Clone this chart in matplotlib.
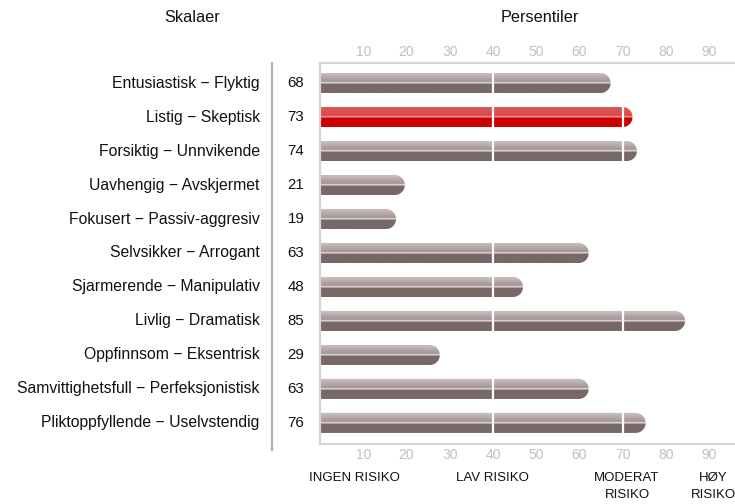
import numpy as np
import matplotlib
matplotlib.use("Agg")
import matplotlib.pyplot as plt
from matplotlib.path import Path
from matplotlib.patches import PathPatch
from matplotlib.lines import Line2D
from matplotlib.colors import to_rgb

plt.rcParams['font.family'] = ['Liberation Sans', 'DejaVu Sans']

categories = [
    "Entusiastisk \u2212 Flyktig",
    "Listig \u2212 Skeptisk",
    "Forsiktig \u2212 Unnvikende",
    "Uavhengig \u2212 Avskjermet",
    "Fokusert \u2212 Passiv-aggresiv",
    "Selvsikker \u2212 Arrogant",
    "Sjarmerende \u2212 Manipulativ",
    "Livlig \u2212 Dramatisk",
    "Oppfinnsom \u2212 Eksentrisk",
    "Samvittighetsfull \u2212 Perfeksjonistisk",
    "Pliktoppfyllende \u2212 Uselvstendig",
]
values = [68, 73, 74, 21, 19, 63, 48, 85, 29, 63, 76]
highlight = [False, True, False, False, False, False, False, False, False, False, False]
ticks = [10, 20, 30, 40, 50, 60, 70, 80, 90]
cut_lines = [40, 70]
risk_labels = ["INGEN RISIKO", "LAV RISIKO", "MODERAT\nRISIKO", "H\u00d8Y\nRISIKO"]
titles = ["Skalaer", "Persentiler"]

W, H = 735, 504
fig = plt.figure(figsize=(W / 100, H / 100), dpi=100)
ax_l, ax_r, ax_t, ax_b = 320, 735, 63, 444
rect = [ax_l / W, 1 - ax_b / H, (ax_r - ax_l) / W, (ax_b - ax_t) / H]
ax = fig.add_axes(rect)
# bar layer: same box, slightly different bar-length scale (bars start a bit left of the frame)
bx = fig.add_axes(rect, zorder=1)
ax.set_zorder(2)
ax.patch.set_visible(False)

n = len(values)
ylim = (n - 1 + 0.62, -0.59)
ax.set_xlim(0, 96)
ax.set_ylim(*ylim)
bx.set_xlim(1.64, 96.4)
bx.set_ylim(*ylim)
bx.axis("off")

bar_h = 0.59


def grad_image(highlighted):
    rows = 40
    img = np.zeros((rows, 1, 3))
    if highlighted:
        top_a, top_b = to_rgb("#de5a5a"), to_rgb("#d84848")
        line_c = to_rgb("#ec9090")
        bot = to_rgb("#cc0000")
        edge = to_rgb("#e57070")
    else:
        top_a, top_b = to_rgb("#cdc3c3"), to_rgb("#a39393")
        line_c = to_rgb("#ddd5d5")
        bot = to_rgb("#786868")
        edge = to_rgb("#b8acac")
    for r in range(rows):
        if r < 19:
            t = r / 18
            img[r, 0] = np.array(top_a) * (1 - t) + np.array(top_b) * t
        elif r < 22:
            img[r, 0] = line_c
        else:
            img[r, 0] = bot
    img[0, 0] = edge
    return img


fig.canvas.draw()
p0 = bx.transData.transform((0, 0))
p1 = bx.transData.transform((1, 1))
px_per_x = abs(p1[0] - p0[0])
px_per_y = abs(p1[1] - p0[1])
cap_px = 10.0
rx = cap_px / px_per_x
ry = cap_px / px_per_y

for i, (v, hl) in enumerate(zip(values, highlight)):
    top = i - bar_h / 2
    bot = i + bar_h / 2
    verts = [(0, top), (v - rx, top)]
    th = np.linspace(-np.pi / 2, 0, 14)
    verts += [(v - rx + rx * np.cos(t), top + ry + ry * np.sin(t)) for t in th]
    th = np.linspace(0, np.pi / 2, 14)
    verts += [(v - rx + rx * np.cos(t), bot - ry + ry * np.sin(t)) for t in th]
    verts += [(0, bot), (0, top)]
    path = Path(verts, closed=True)
    patch = PathPatch(path, facecolor="none", edgecolor="none")
    bx.add_patch(patch)
    im = bx.imshow(grad_image(hl), extent=(0, v, bot, top), origin="upper",
                   aspect="auto", interpolation="bilinear", zorder=2)
    im.set_clip_path(patch)
    for c in cut_lines:
        if v > c + 0.5:
            ax.vlines(c, top, bot, color="white", lw=1.6, zorder=3)
    ax.text(-0.058, i, str(v), transform=ax.get_yaxis_transform(),
            ha="center", va="center", fontsize=10.8, color="#111111")
    ax.text(-0.145, i, categories[i], transform=ax.get_yaxis_transform(),
            ha="right", va="center", fontsize=11.3, color="#111111")

ax.set_xticks(ticks)
ax.set_xticklabels([str(t) for t in ticks])
ax.set_yticks([])
ax.tick_params(axis="x", top=True, labeltop=True, bottom=True, labelbottom=True,
               length=0, pad=3, labelcolor="#c0c0c0", labelsize=10)
for s in ["top", "bottom", "left"]:
    ax.spines[s].set_color("#d4d4d4")
    ax.spines[s].set_linewidth(1.6)
ax.spines["right"].set_visible(False)

fig.add_artist(Line2D([272 / W, 272 / W], [1 - 63 / H, 1 - 450 / H],
                      color="#b0b0b0", lw=1.6, transform=fig.transFigure))

fig.text(192 / W, 1 - 18 / H, titles[0], ha="center", va="center", fontsize=11.7, color="#111111")
fig.text(540 / W, 1 - 18 / H, titles[1], ha="center", va="center", fontsize=11.7, color="#111111")

risk_x = [354, 492, 627, 713]
for lab, x in zip(risk_labels, risk_x):
    fig.text(x / W, 1 - 472 / H, lab, ha="center", va="top", fontsize=9.5,
             color="#111111", linespacing=1.55)

fig.savefig("out.png", dpi=100)
